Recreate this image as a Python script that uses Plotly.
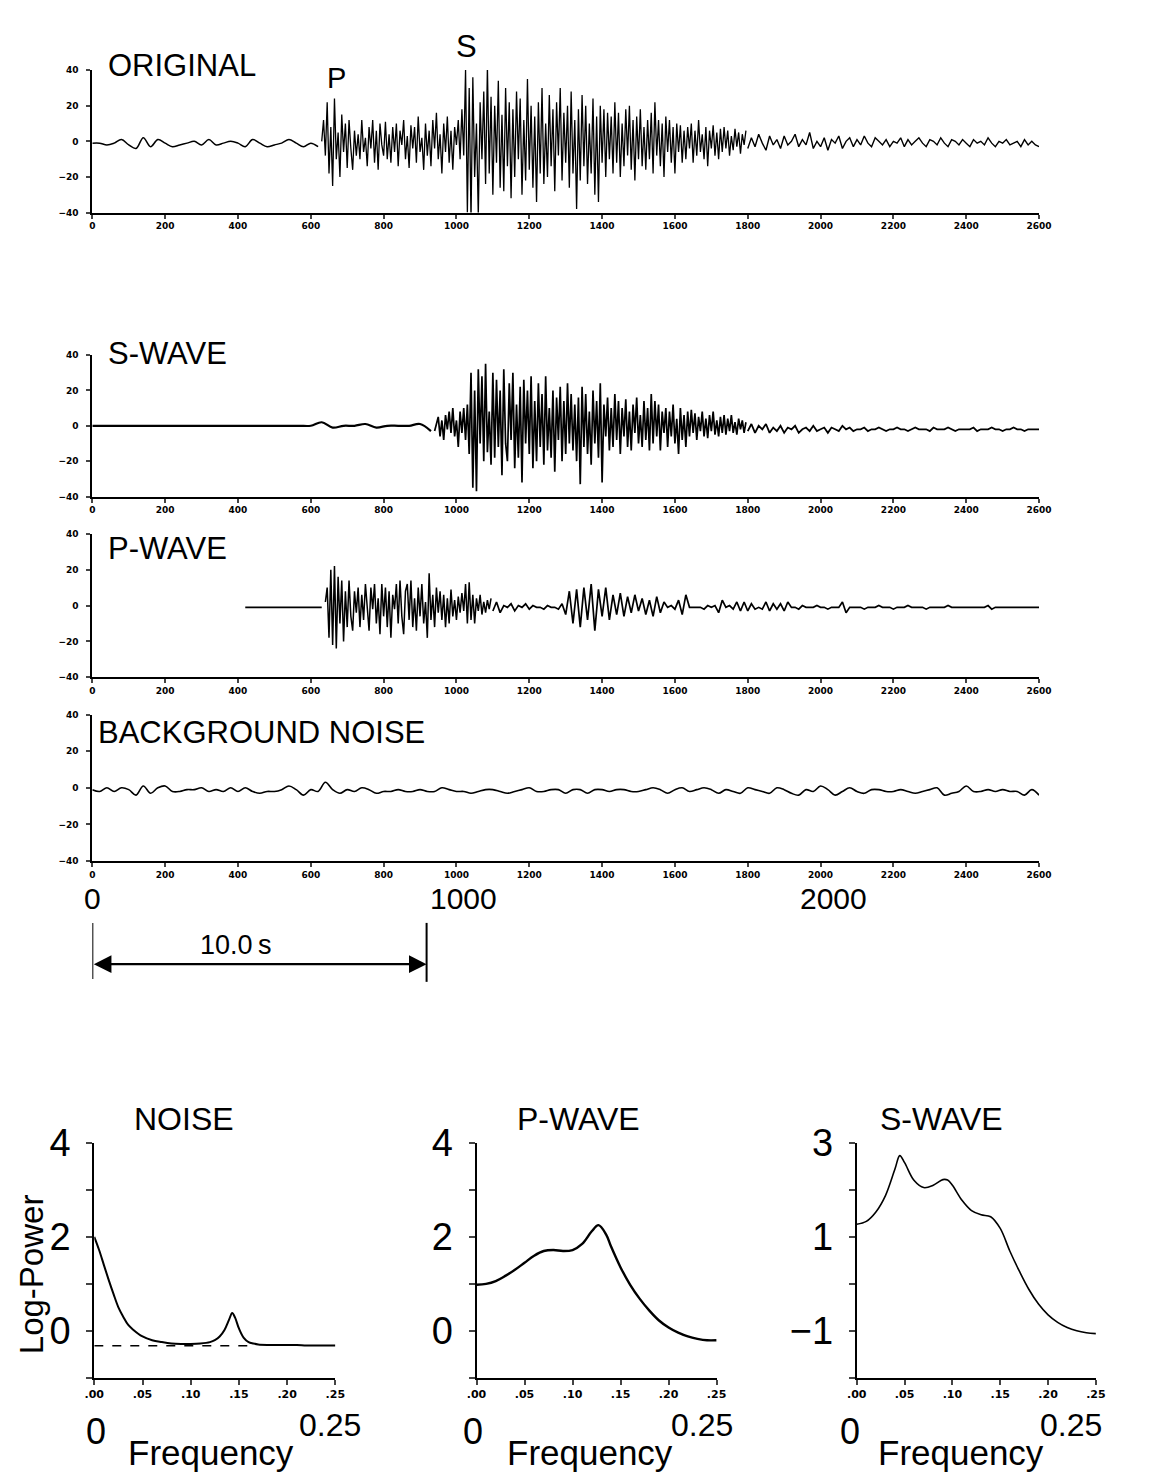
import numpy as np
import plotly.graph_objects as go

W, H = 1153, 1483

# ---------------- seismogram data (amplitude units; samples at start + step*k) -------------
orig_quiet_start, orig_quiet_step = 0, 20
orig_quiet = [-1, -1, -2, -1, 1, -2, -4, 2, -3, 1, -1, -3, -2, -1, 0, -2,
              1, -2, -1, 0, -1, -3, 1, -1, -3, -2, -1, 1, -1, -3, -1, -3]
orig_dense_start, orig_dense_step = 630, 5
orig_dense = [
    0, 12, -8, 22, -18, 8, -25, 24, -10, 5, -20, 15, -6, 10, -15, 12, -4, -16, 6, -8,
    4, -10, 12, -6, 2, -14, 8, -4, 12, -12, 6, -16, 10, -2, -8, 11, -10, 4, -12, 8,
    -6, 10, -14, 6, -2, 12, -10, 3, -15, 9, -4, 8, -12, 14, -6, 2, -16, 10, -8, 6,
    -14, 12, -4, 16, -10, 4, -18, 10, -6, 14, -12, 6, -16, 8, -2, 12, -10, 18, -8, 40,
    -40, 30, -44, 36, -20, 10, -42, 22, -10, 28, -24, 42, -18, 25, -30, 20, -12, 34, -26, 15,
    -28, 30, -14, 22, -32, 18, -20, 28, -10, 24, -30, 12, -22, 35, -16, 20, -26, 14, -34, 22,
    -18, 30, -24, 10, -20, 26, -14, 18, -28, 22, -8, 30, -22, 16, -12, 20, -26, 28, -18, 12,
    -38, 18, -22, 26, -14, 20, -24, 10, -18, 24, -30, 14, -34, 20, -12, 18, -20, 16, -10, 14,
    -18, 22, -12, 16, -20, 10, -14, 18, -8, 20, -16, 12, -22, 14, -10, 18, -14, 8, -16, 12,
    -10, 16, -18, 22, -8, 12, -14, 10, -20, 14, -6, 12, -12, 8, -18, 10, -6, 9, -12, 6,
    -10, 8, -4, 10, -12, 6, -8, 12, -6, 4, -10, 8, -14, 6, -4, 9, -8, 5, -10, 7,
    -6, 8, -4, 6, -8, 3, -5, 7, -3, 5, -7, 4, -2, 6]
orig_tail_start, orig_tail_step = 1800, 10
orig_tail = [
    -4, 2, -3, 4, -1, -5, 3, -2, 1, -4,
    3, -2, 0, 4, -3, 1, -2, 5, -4, 0,
    -3, 2, -5, 1, -1, 3, -4, 0, 2, -3,
    1, -2, 3, -1, -3, 2, 0, -2, 1, -3,
    0, -1, 2, -3, 1, -2, 0, 2, -1, -3,
    1, 0, -2, 2, -1, -3, 1, 0, -2, 1,
    -1, -3, 1, -1, 0, -2, 2, -1, -3, 0,
    -1, 1, -2, -1, 0, -3, 1, -2, 0, -2,
    -3]

s_quiet_start, s_quiet_step = 0, 30
s_quiet = [0, 0, 0, 0, 0, 0, 0, 0, 0, 0, 0, 0, 0, 0, 0, 0,
           0, 0, 0, 0, 0, 2, -1, 0, 0, 1, -1, 0, 0, 0, 1, -3]
s_dense_start, s_dense_step = 940, 5
s_dense = [
    -3, 2, 5, -6, 3, -8, 6, -2, 8, -4, 10, -6, 3, -12, 8, -4, 10, -8, 12, -16,
    30, -35, 20, -37, 32, -10, 28, -20, 35, -15, 8, -22, 30, -18, 26, -12, 20, -28, 32, -10,
    -20, 24, -8, 30, -24, 12, -18, 22, -32, 26, -10, 20, -16, 28, -24, 14, -20, 24, -12, 18,
    -22, 28, -14, 10, -18, 20, -26, 16, -8, 22, -20, 14, -16, 24, -10, 18, -14, 12, -20, 16,
    -33, 22, -12, 18, -16, 8, -22, 20, -10, 14, -18, 24, -32, 12, -6, 16, -14, 10, -12, 18,
    -8, 14, -16, 10, -6, 15, -12, 8, -14, 12, -4, 16, -10, 6, -12, 14, -8, 10, -14, 18,
    -10, 14, -6, 12, -14, 8, -4, 10, -12, 8, -6, 12, -10, 4, -16, 10, -8, 6, -12, 8,
    -6, 9, -4, 7, -8, 5, -3, 8, -6, 4, -7, 6, -3, 8, -5, 3, -6, 5, -4, 6,
    -5, 4, -3, 6, -4, 2, -5, 4, -2, 3, -4, 2]
s_tail_start, s_tail_step = 1800, 10
s_tail = [
    -3, 1, -4, 0, -2, 1, -4, -1, -3, 0,
    -4, -1, -2, 0, -4, -2, -1, -3, 0, -3,
    -2, -1, -4, -1, -2, -3, 0, -2, -1, -3,
    -2, -2, -1, -3, -2, -2, -1, -2, -3, -2,
    -2, -1, -2, -2, -3, -2, -1, -2, -2, -2,
    -3, -1, -2, -2, -2, -1, -2, -3, -2, -2,
    -2, -2, -1, -3, -2, -2, -2, -1, -2, -2,
    -3, -2, -2, -1, -2, -2, -3, -2, -2, -2,
    -2]

p_quiet_start, p_quiet_step = 420, 30
p_quiet = [-1, -1, -1, -1, -1, -1, -1, -1]
p_dense_start, p_dense_step = 640, 5
p_dense = [
    2, 10, -18, 20, -22, 22, -24, 16, -10, 14, -20, 8, -12, 14, -6, -14, 8, -4, 10, -12,
    6, -8, 12, -4, -14, 10, -2, 12, -10, 4, -16, 12, -6, 10, -12, 8, -18, 6, -2, 12,
    -10, 14, -6, -16, 8, 12, -8, 14, -12, 4, -14, 10, -6, 12, -10, 2, -18, 18, -8, 6,
    -12, 10, -4, 8, -8, 6, -12, 4, -10, 9, -6, 3, -8, 5, -4, 7, -3, 12, -10, 13,
    -8, 6, -10, 4, -3, 6, -5, 2, -4, 3, -2, 4]
p_tail_start, p_tail_step = 1100, 10
p_tail = [
    -3, 2, -4, 0, -1, 1, -3, 0, -1, 1,
    -2, 0, -1, -1, -2, 0, -1, -1, -2, 1,
    -5, 8, -10, 9, -12, 10, -8, 12, -14, 9,
    -6, 10, -8, 6, -5, 7, -6, 5, -4, 6,
    -3, 4, -5, 3, -6, 5, -4, 2, -1, 0,
    -2, 3, -5, 6, -1, -1, -1, -1, -2, 0,
    -1, 0, -4, 3, -1, 0, -2, 2, -3, 2,
    -3, 1, -2, -1, -2, 2, -3, 1, -2, 1,
    -3, 2, -1, -1, -2, 0, -1, -1, -1, 0,
    -1, -1, -2, -1, -1, -1, 2, -4, -1, -1,
    -1, -1, -2, -1, -1, -1, 0, -1, -1, -1,
    -2, -1, -1, -1, 0, -1, -1, -1, -1, -2,
    -1, -1, -1, -1, -1, 0, -1, -1, -1, -1,
    -1, -1, -1, -1, -1, -1, 0, -2, -1, -1,
    -1, -1, -1, -1, -1, -1, -1, -1, -1, -1,
    -1]

noise_start, noise_step = 0, 20
noise_vals = [
    -1, -2, 0, -2, 0, -1, -4, 1, -3, 0, 1, -2, -2, -1, -1, 0, -2, -1, -2, 0,
    -2, 0, -2, -3, -2, -2, -1, 1, -1, -4, -1, -2, 3, -1, -3, -1, -2, 0, -1, -3,
    -2, -2, -1, -2, -2, -1, -2, -2, 0, -1, -2, -2, -3, -2, -1, -1, -2, -3, -2, -1,
    0, -2, -2, -1, -1, -3, -1, -1, -3, -1, -1, -2, -1, -1, -2, -2, -1, 0, -1, -3,
    -1, 0, -2, -1, 0, -1, -3, -1, -2, -3, 0, -1, -2, -3, 0, -1, -3, -4, -1, -2,
    1, -1, -4, -2, 0, -2, -3, -1, -1, -2, -2, -1, -2, -3, -2, -1, 0, -4, -3, -2,
    1, -2, -2, -1, -2, -1, -2, -2, -4, -1, -4]

time_ticks = list(range(0, 2601, 200))

# ---------------- spectra data ----------------
noise_freq = [0, 0.005, 0.01, 0.015, 0.02, 0.025, 0.03, 0.035, 0.04, 0.05, 0.06, 0.07, 0.08,
              0.09, 0.10, 0.11, 0.12, 0.125, 0.13, 0.135, 0.14, 0.143, 0.146, 0.15, 0.155,
              0.16, 0.165, 0.17, 0.18, 0.19, 0.20, 0.21, 0.22, 0.23, 0.24, 0.25]
noise_logpow = [2.0, 1.72, 1.4, 1.08, 0.78, 0.5, 0.3, 0.13, 0.03, -0.12, -0.2, -0.24, -0.27,
                -0.28, -0.28, -0.27, -0.24, -0.2, -0.12, 0.02, 0.25, 0.38, 0.28, 0.05, -0.15,
                -0.24, -0.27, -0.29, -0.3, -0.3, -0.3, -0.3, -0.31, -0.31, -0.31, -0.31]
noise_floor_freq = [0.0, 0.16]
noise_floor = [-0.32, -0.32]

p_freq = [0, 0.01, 0.02, 0.03, 0.04, 0.05, 0.06, 0.07, 0.08, 0.09, 0.10, 0.11, 0.12, 0.127,
          0.135, 0.14, 0.15, 0.16, 0.17, 0.18, 0.19, 0.20, 0.21, 0.22, 0.23, 0.24, 0.25]
p_logpow = [0.98, 1.0, 1.06, 1.17, 1.3, 1.45, 1.6, 1.7, 1.72, 1.7, 1.72, 1.85, 2.12, 2.25,
            2.05, 1.8, 1.35, 0.98, 0.68, 0.43, 0.22, 0.07, -0.04, -0.12, -0.17, -0.2, -0.2]

s_freq = [0, 0.01, 0.02, 0.03, 0.04, 0.045, 0.05, 0.06, 0.07, 0.08, 0.09, 0.095, 0.10, 0.11,
          0.12, 0.13, 0.14, 0.15, 0.16, 0.17, 0.18, 0.19, 0.20, 0.21, 0.22, 0.23, 0.24, 0.25]
s_logpow = [1.27, 1.33, 1.53, 1.88, 2.45, 2.73, 2.58, 2.2, 2.05, 2.1, 2.22, 2.21, 2.1, 1.78,
            1.56, 1.47, 1.43, 1.18, 0.7, 0.27, -0.12, -0.43, -0.66, -0.82, -0.93, -1.0,
            -1.04, -1.06]

freq_ticks = [0, 0.05, 0.10, 0.15, 0.20, 0.25]
freq_ticktext = ['.00', '.05', '.10', '.15', '.20', '.25']

# ---------------- helpers ----------------
FONT = 'Liberation Sans'
TICKFONT = dict(family='DejaVu Sans', size=9, color='black', weight='bold')


def xs(start, step, vals):
    return start + step * np.arange(len(vals))


def dom_x(a, b):
    return [a / W, b / W]


def dom_y(top, bottom):
    return [1 - bottom / H, 1 - top / H]


def px(xp, yp):
    return xp / W, 1 - yp / H


fig = go.Figure()


def add_line(start, step, vals, ax, width, spline=False):
    fig.add_trace(go.Scatter(x=xs(start, step, vals), y=vals, mode='lines',
                             line=dict(color='black', width=width,
                                       shape='spline' if spline else 'linear'),
                             xaxis='x' + ax, yaxis='y' + ax, cliponaxis=False,
                             hoverinfo='skip'))


# ORIGINAL
add_line(orig_quiet_start, orig_quiet_step, orig_quiet, '', 1.5, spline=True)
add_line(orig_dense_start, orig_dense_step, orig_dense, '', 1.3)
add_line(orig_tail_start, orig_tail_step, orig_tail, '', 1.4)
# S-WAVE
add_line(s_quiet_start, s_quiet_step, s_quiet, '2', 2.2, spline=True)
add_line(s_dense_start, s_dense_step, s_dense, '2', 1.7)
add_line(s_tail_start, s_tail_step, s_tail, '2', 1.8)
# P-WAVE
add_line(p_quiet_start, p_quiet_step, p_quiet, '3', 1.8)
add_line(p_dense_start, p_dense_step, p_dense, '3', 1.5)
add_line(p_tail_start, p_tail_step, p_tail, '3', 1.7)
# BACKGROUND NOISE
add_line(noise_start, noise_step, noise_vals, '4', 1.6, spline=True)

# spectra
fig.add_trace(go.Scatter(x=noise_freq, y=noise_logpow, mode='lines',
                         line=dict(color='black', width=2, shape='spline'), xaxis='x5', yaxis='y5'))
fig.add_trace(go.Scatter(x=noise_floor_freq, y=noise_floor, mode='lines',
                         line=dict(color='black', width=1.5, dash='dash'), xaxis='x5', yaxis='y5'))
fig.add_trace(go.Scatter(x=p_freq, y=p_logpow, mode='lines',
                         line=dict(color='black', width=2.4, shape='spline'), xaxis='x6', yaxis='y6'))
fig.add_trace(go.Scatter(x=s_freq, y=s_logpow, mode='lines',
                         line=dict(color='black', width=1.6, shape='spline'), xaxis='x7', yaxis='y7'))

layout = dict(width=W, height=H, margin=dict(l=0, r=0, t=0, b=0), showlegend=False,
              paper_bgcolor='white', plot_bgcolor='white')

top_panels = [(50, 195), (340, 484), (522, 668), (706, 855)]
for i, (t, b) in enumerate(top_panels, start=1):
    sx = '' if i == 1 else str(i)
    layout['xaxis' + sx] = dict(domain=dom_x(84, 1050), range=[0, 2600], anchor='y' + sx,
                               tickvals=time_ticks, ticks='outside', ticklen=4, tickwidth=1.5,
                               showline=True, linecolor='black', linewidth=2, showgrid=False,
                               zeroline=False, tickfont=TICKFONT, tickangle=0)
    layout['yaxis' + sx] = dict(domain=dom_y(t, b), range=[-40, 40], anchor='x' + sx,
                               tickvals=[-40, -20, 0, 20, 40], ticks='outside', ticklen=4,
                               tickwidth=1.5, showline=True, linecolor='black', linewidth=2,
                               showgrid=False, zeroline=False, tickfont=TICKFONT,
                               ticklabelstandoff=6)

spec_x = [(86, 332), (476, 721), (864, 1108)]
spec_yr = [[-1, 4], [-1, 4], [-2, 3]]
spec_ytext = [['', '0', '', '2', '', '4'], ['', '0', '', '2', '', '4'],
              ['', '\u22121', '', '1', '', '3']]
for j in range(3):
    n = str(5 + j)
    lo, hi = spec_yr[j]
    layout['xaxis' + n] = dict(domain=dom_x(*spec_x[j]), range=[0, 0.25], anchor='y' + n,
                              tickvals=freq_ticks, ticktext=freq_ticktext, ticks='outside',
                              ticklen=5, tickwidth=1.5, showline=True, linecolor='black',
                              linewidth=2, showgrid=False, zeroline=False,
                              tickfont=dict(family='DejaVu Sans', size=11, color='black',
                                            weight='bold'), tickangle=0)
    layout['yaxis' + n] = dict(domain=dom_y(1142, 1381), range=[lo, hi], anchor='x' + n,
                              tickvals=list(range(lo, hi + 1)), ticktext=spec_ytext[j],
                              ticks='outside', ticklen=6, tickwidth=1.5, showline=True,
                              linecolor='black', linewidth=2, showgrid=False, zeroline=False,
                              tickfont=dict(family=FONT, size=38, color='black'),
                              ticklabelstandoff=8)

anns = []


def ann(text, xp, yp, size, xanchor='center', yanchor='middle', **kw):
    x, y = px(xp, yp)
    anns.append(dict(text=text, x=x, y=y, xref='paper', yref='paper', showarrow=False,
                     xanchor=xanchor, yanchor=yanchor,
                     font=dict(family=FONT, size=size, color='black'), **kw))


ann('ORIGINAL', 98, 45, 31, xanchor='left')
ann('P', 333, 58, 29)
ann('S', 466, 26, 31)
ann('S-WAVE', 98, 338, 31, xanchor='left')
ann('P-WAVE', 98, 537, 31, xanchor='left')
ann('BACKGROUND NOISE', 88, 724, 31, xanchor='left')
ann('0', 84, 893, 30)
ann('1000', 463, 893, 30)
ann('2000', 840, 893, 30)
ann('10.0\u2009s', 230, 940, 27)

ann('NOISE', 178, 1118, 32)
ann('P-WAVE', 580, 1118, 32)
ann('S-WAVE', 950, 1118, 32)
ann('Log-Power', 22, 1276, 33, textangle=-90)
for (zx, qx, fx) in [(88, 327, 205), (472, 706, 592), (857, 1083, 970)]:
    ann('0', zx, 1436, 36)
    ann('0.25', qx, 1429, 32)
    ann('Frequency', fx, 1457, 35)

# 10.0 s scale arrow (in time units of the bottom panel)
ay = 1 - 960 / H
anns.append(dict(x=918, y=ay, xref='x4', yref='paper', ax=0, ay=0, axref='x4', ayref='pixel',
                 text='', showarrow=True, arrowhead=2, arrowside='end+start', arrowsize=1.6,
                 arrowwidth=2.2, arrowcolor='black'))
layout['annotations'] = anns
layout['shapes'] = [
    dict(type='line', xref='x4', yref='paper', x0=0, x1=0, y0=1 - 975 / H, y1=1 - 918 / H,
         line=dict(color='black', width=2)),
    dict(type='line', xref='x4', yref='paper', x0=918, x1=918, y0=1 - 978 / H, y1=1 - 918 / H,
         line=dict(color='black', width=2)),
]

fig.update_layout(**layout)
fig.write_html('out.html')
